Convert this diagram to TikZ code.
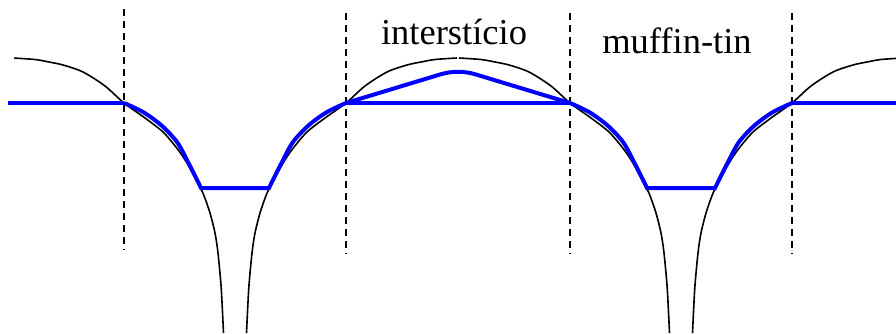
\documentclass[tikz,border=0pt]{standalone}
\usepackage{fontspec}
\setmainfont{Liberation Serif}[Ligatures=CommonOff]
\begin{document}
\begin{tikzpicture}[x=1pt, y=-1pt,
    potential/.style={black, line width=1.6pt},
    mtpot/.style={blue, line width=4pt},
    cellbound/.style={black, line width=1.7pt, dash pattern=on 7pt off 5pt},
    regionlabel/.style={font=\fontsize{36.5}{40}\selectfont, anchor=base, inner sep=0pt}]
    \useasboundingbox (0,0) rectangle (896,333);

    % cell boundaries (dashed), one coordinate per boundary at the muffin-tin level
    \foreach \x/\t [count=\i] in {124/9, 346/13, 570/13, 792/13} {
        \coordinate (b\i) at (\x,103);
        \draw[cellbound] (\x,\t) -- (\x,{\t+241});
    }

    % true crystal potential: one branch on each side of each nucleus
    \begin{scope}
        \clip (14,0) rectangle (896,333);
        \foreach \c in {235,681} \foreach \s in {-1,1} {
            \begin{scope}[shift={(\c,0)}, xscale=\s]
                \draw[potential] plot[smooth] coordinates {(11.5,333) (12.5,312) (14,285) (17,253) (20,233)
                    (25,213) (30.5,197) (34.5,188) (47.5,164) (57.5,149) (72,132) (90,118) (111,103)
                    (130,86) (152,72) (172,65) (186,62) (200,59.5) (222,58)};
            \end{scope}
        }
    \end{scope}

    % muffin-tin approximation inside the spheres
    \foreach \c in {235,681} {
        \begin{scope}[shift={(\c,0)}]
            \draw[mtpot] plot[smooth] coordinates {(-111,103) (-92,112) (-74,125) (-58,142) (-47,162) (-34,188)}
                -- plot[smooth] coordinates {(34,188) (47,162) (58,142) (74,125) (92,112) (111,103)};
        \end{scope}
    }

    % flat potential in the interstitial region
    \draw[mtpot] (8,103) -- (b1);
    \draw[mtpot] (b2) -- (b3);
    \draw[mtpot] (b4) -- (896,103);
    % warped interstitial potential
    \draw[mtpot] (b2) -- (440,74.5) .. controls (452,70.9) and (464,70.9) .. (476,74.5) -- (b3);

    \node[regionlabel] (inter) at (454,44) {interstício};
    \node[regionlabel] (mt) at (677,53) {muffin-tin};
\end{tikzpicture}
\end{document}
